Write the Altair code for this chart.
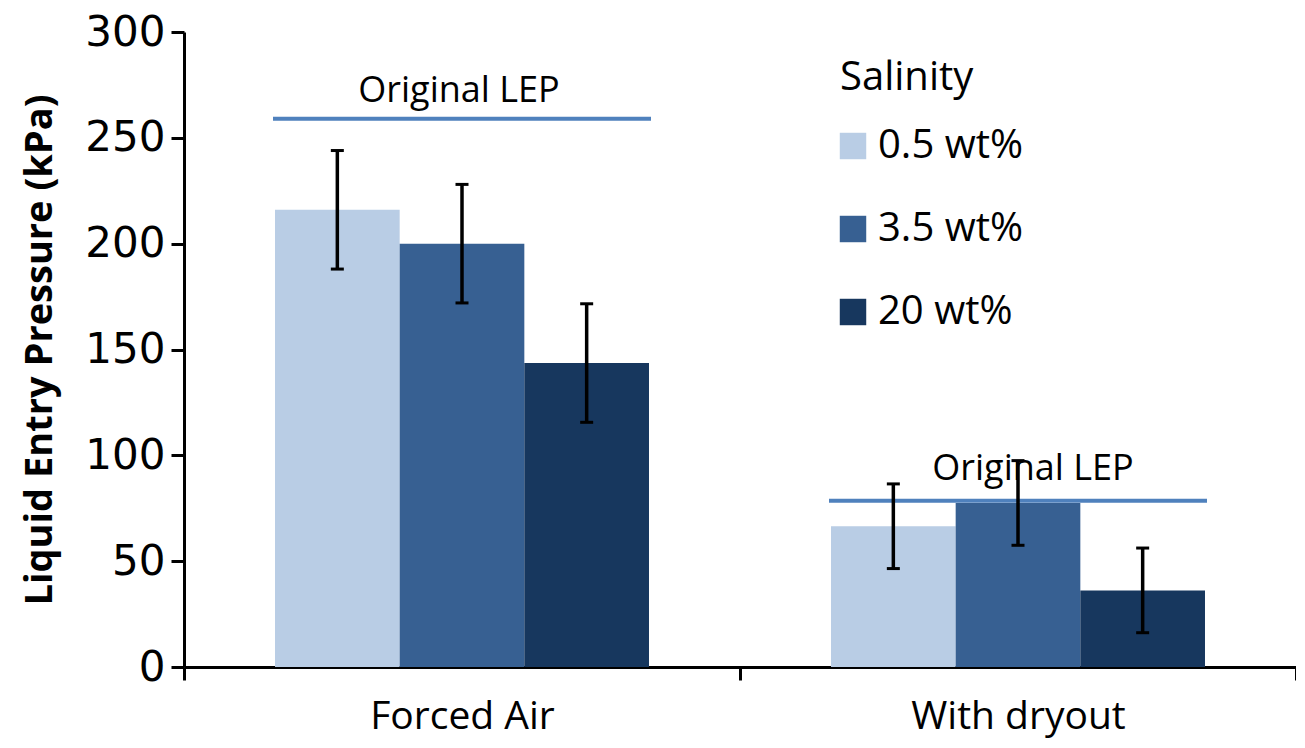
import altair as alt
import pandas as pd

categories = ["Forced Air", "With dryout"]
salinities = ["0.5 wt%", "3.5 wt%", "20 wt%"]
colors = ["#B9CDE5", "#376092", "#17375E"]

forced_air = [216, 200, 143.6]
with_dryout = [66.5, 77.5, 36.2]
forced_air_err = [28, 28, 28]
with_dryout_err = [20, 20, 20]

original_lep = [259, 78.5]
lep_label = "Original LEP"

rows = []
for cat, vals, errs in [("Forced Air", forced_air, forced_air_err),
                        ("With dryout", with_dryout, with_dryout_err)]:
    for s, v, e in zip(salinities, vals, errs):
        rows.append({"cat": cat, "sal": s, "value": v, "lo": v - e, "hi": v + e})
df = pd.DataFrame(rows)
lep_df = pd.DataFrame({"cat": categories, "lep": original_lep, "label": [lep_label] * 2})

FONT = "Open Sans"

x_enc = alt.X("cat:N", sort=categories, title=None,
              scale=alt.Scale(paddingInner=0, paddingOuter=0),
              axis=alt.Axis(labelAngle=0, tickBand="extent", domainColor="black",
                            domainWidth=3, tickColor="black", tickWidth=3, tickSize=13,
                            labelFont=FONT, labelFontSize=39, labelColor="black",
                            labelPadding=17, labelLimit=0))
y_scale = alt.Scale(domain=[0, 300], nice=False)
y_enc = alt.Y("value:Q", scale=y_scale,
              title="Liquid Entry Pressure (kPa)",
              axis=alt.Axis(values=[0, 50, 100, 150, 200, 250, 300], grid=False,
                            domainColor="black", domainWidth=3, tickColor="black",
                            tickWidth=3, tickSize=13, labelFont="DejaVu Sans",
                            labelFontSize=42, labelColor="black", labelPadding=6,
                            titleFont=FONT, titleFontSize=38, titleFontWeight="bold",
                            titleColor="black", titlePadding=25))
xoff = alt.XOffset("sal:N", sort=salinities,
                   scale=alt.Scale(paddingOuter=0.73, paddingInner=0))

bars = alt.Chart(df).mark_bar().encode(
    x=x_enc,
    xOffset=xoff,
    y=y_enc,
    color=alt.Color("sal:N", sort=salinities,
                    scale=alt.Scale(domain=salinities, range=colors),
                    legend=alt.Legend(title="Salinity", orient="none",
                                      legendX=656, legendY=26,
                                      titleFont=FONT, titleFontSize=40,
                                      titleFontWeight="normal", titleColor="black",
                                      titlePadding=28,
                                      labelFont=FONT, labelFontSize=40,
                                      labelColor="black", labelOffset=5,
                                      symbolType="square", symbolSize=700,
                                      symbolStrokeWidth=0, symbolOffset=-7,
                                      rowPadding=43, padding=0)),
)

lep_line = alt.Chart(lep_df).mark_tick(color="#4F81BD", thickness=4, size=378,
                                       opacity=1).encode(
    x=alt.X("cat:N", sort=categories),
    y=alt.Y("lep:Q", scale=y_scale),
)

lep_text_fa = alt.Chart(lep_df).transform_filter(
    alt.datum.cat == categories[0]
).mark_text(font=FONT, fontSize=36, color="black", baseline="alphabetic",
            dy=-17, dx=-3).encode(
    x=alt.X("cat:N", sort=categories),
    y=alt.Y("lep:Q", scale=y_scale),
    text="label:N",
)
lep_text_dr = alt.Chart(lep_df).transform_filter(
    alt.datum.cat == categories[1]
).mark_text(font=FONT, fontSize=36, color="black", baseline="alphabetic",
            dy=-21, dx=15).encode(
    x=alt.X("cat:N", sort=categories),
    y=alt.Y("lep:Q", scale=y_scale),
    text="label:N",
)

err_rule = alt.Chart(df).mark_rule(color="black", strokeWidth=3.5).encode(
    x=alt.X("cat:N", sort=categories),
    xOffset=xoff,
    y=alt.Y("lo:Q", scale=y_scale),
    y2="hi:Q",
)
cap_lo = alt.Chart(df).mark_tick(color="black", thickness=3, size=13, opacity=1).encode(
    x=alt.X("cat:N", sort=categories),
    xOffset=xoff,
    y=alt.Y("lo:Q", scale=y_scale),
)
cap_hi = alt.Chart(df).mark_tick(color="black", thickness=3, size=13, opacity=1).encode(
    x=alt.X("cat:N", sort=categories),
    xOffset=xoff,
    y=alt.Y("hi:Q", scale=y_scale),
)

chart = alt.layer(bars, lep_line, lep_text_fa, lep_text_dr, err_rule, cap_lo, cap_hi).properties(
    width=1112, height=635,
    autosize=alt.AutoSizeParams(type="none"),
    padding={"left": 176, "top": 24, "right": 0, "bottom": 73},
).configure_view(stroke=None)

chart.save("out.html", embed_options={"renderer": "svg", "actions": False})
